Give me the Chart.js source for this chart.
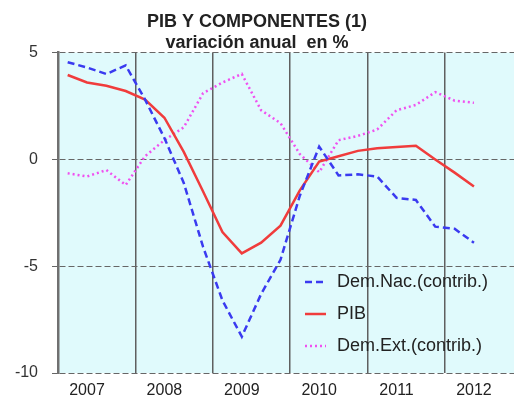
<!DOCTYPE html>
<html>
<head>
<meta charset="utf-8">
<script src="https://cdn.jsdelivr.net/npm/chart.js@4.4.1/dist/chart.umd.min.js"></script>
<style>
  html, body { margin: 0; padding: 0; background: #fff; }
  canvas { display: block; }
</style>
</head>
<body>
<canvas id="pibChart" width="514" height="401"></canvas>
<script>
const years = ["2007", "2008", "2009", "2010", "2011", "2012"];
const quarters = [
  "2007-I", "2007-II", "2007-III", "2007-IV",
  "2008-I", "2008-II", "2008-III", "2008-IV",
  "2009-I", "2009-II", "2009-III", "2009-IV",
  "2010-I", "2010-II", "2010-III", "2010-IV",
  "2011-I", "2011-II", "2011-III", "2011-IV",
  "2012-I", "2012-II"
];
const demNac = [4.55, 4.3, 4.0, 4.4, 2.8, 1.0, -1.1, -4.1, -6.6, -8.3, -6.3, -4.7,
  -1.7, 0.6, -0.75, -0.7, -0.8, -1.8, -1.9, -3.15, -3.25, -3.9];
const pib = [3.95, 3.6, 3.45, 3.2, 2.8, 1.95, 0.35, -1.5, -3.4, -4.4, -3.9, -3.1,
  -1.45, -0.1, 0.15, 0.4, 0.52, 0.58, 0.64, 0.0, -0.62, -1.27];
const demExt = [-0.65, -0.8, -0.5, -1.2, 0.15, 0.9, 1.5, 3.1, 3.6, 4.0, 2.3, 1.7,
  0.25, -0.6, 0.9, 1.1, 1.4, 2.3, 2.55, 3.15, 2.75, 2.65];
const yTicks = [5, 0, -5, -10];

const FONT = "'Liberation Sans', Arial, sans-serif";

// quarter i sits in the middle of its slot
function toPoints(values) {
  return quarters.map((q, i) => ({ x: i + 0.5, y: values[i] }));
}

const plotBackground = {
  id: "plotBackground",
  beforeDraw(chart) {
    const { ctx, chartArea: a } = chart;
    ctx.save();
    ctx.fillStyle = "#e0fafc";
    ctx.fillRect(a.left, a.top, a.right - a.left, a.bottom - a.top);
    ctx.restore();
  }
};

// legend drawn inside the plot, lower right
const insideLegend = {
  id: "insideLegend",
  afterDraw(chart) {
    const ctx = chart.ctx;
    ctx.save();
    ctx.font = "18px " + FONT;
    ctx.textBaseline = "middle";
    chart.data.datasets.forEach((ds, i) => {
      const y = 282 + 32 * i;
      ctx.strokeStyle = ds.borderColor;
      ctx.lineWidth = ds.borderWidth;
      ctx.setLineDash(ds.borderDash || []);
      ctx.beginPath();
      ctx.moveTo(305, y);
      ctx.lineTo(326, y);
      ctx.stroke();
      ctx.fillStyle = "#222";
      ctx.fillText(ds.label, 337, y);
    });
    ctx.restore();
  }
};

new Chart(document.getElementById("pibChart"), {
  type: "line",
  data: {
    datasets: [
      {
        label: "Dem.Nac.(contrib.)",
        data: toPoints(demNac),
        borderColor: "#3a3af0",
        borderWidth: 2.5,
        borderDash: [7, 4]
      },
      {
        label: "PIB",
        data: toPoints(pib),
        borderColor: "#f03c3c",
        borderWidth: 2.5
      },
      {
        label: "Dem.Ext.(contrib.)",
        data: toPoints(demExt),
        borderColor: "#f050f0",
        borderWidth: 2.5,
        borderDash: [2, 3]
      }
    ]
  },
  options: {
    responsive: false,
    animation: false,
    layout: { padding: 0 },
    elements: { point: { radius: 0 }, line: { tension: 0 } },
    scales: {
      x: {
        type: "linear",
        min: 0,
        max: 23.57,
        afterBuildTicks(scale) {
          const t = [];
          years.forEach((y, k) => {
            t.push({ value: 4 * k });
            t.push({ value: 4 * k + 1.5 });
          });
          scale.ticks = t;
        },
        afterFit(scale) { scale.height = 28; },
        grid: {
          color: (c) => (c.tick && c.tick.value % 4 === 0 ? "#5f5f5f" : "transparent"),
          lineWidth: 1.5,
          drawTicks: false
        },
        border: { display: false },
        ticks: {
          autoSkip: false,
          maxRotation: 0,
          padding: 8,
          color: "#222",
          font: { family: FONT, size: 16 },
          callback: (v) => (v % 4 === 1.5 ? years[(v - 1.5) / 4] : "")
        }
      },
      y: {
        min: -10,
        max: 5,
        afterBuildTicks(scale) {
          scale.ticks = yTicks.map((v) => ({ value: v }));
        },
        afterFit(scale) { scale.width = 58; },
        grid: { color: "#666", lineWidth: 1, tickLength: 6 },
        border: { display: true, color: "#707070", width: 2.5, dash: [6, 3] },
        ticks: {
          padding: 14,
          color: "#333",
          font: { family: FONT, size: 16 }
        }
      }
    },
    plugins: {
      legend: { display: false },
      tooltip: { enabled: false },
      title: {
        display: true,
        text: "PIB Y COMPONENTES (1)",
        color: "#222",
        font: { family: FONT, size: 18, weight: "bold", lineHeight: 1.1 },
        padding: { top: 12, bottom: 0 }
      },
      subtitle: {
        display: true,
        text: "variación anual  en %",
        color: "#222",
        font: { family: FONT, size: 18, weight: "bold", lineHeight: 1.1 },
        padding: { top: 1, bottom: 0 }
      }
    }
  },
  plugins: [plotBackground, insideLegend]
});
</script>
</body>
</html>
